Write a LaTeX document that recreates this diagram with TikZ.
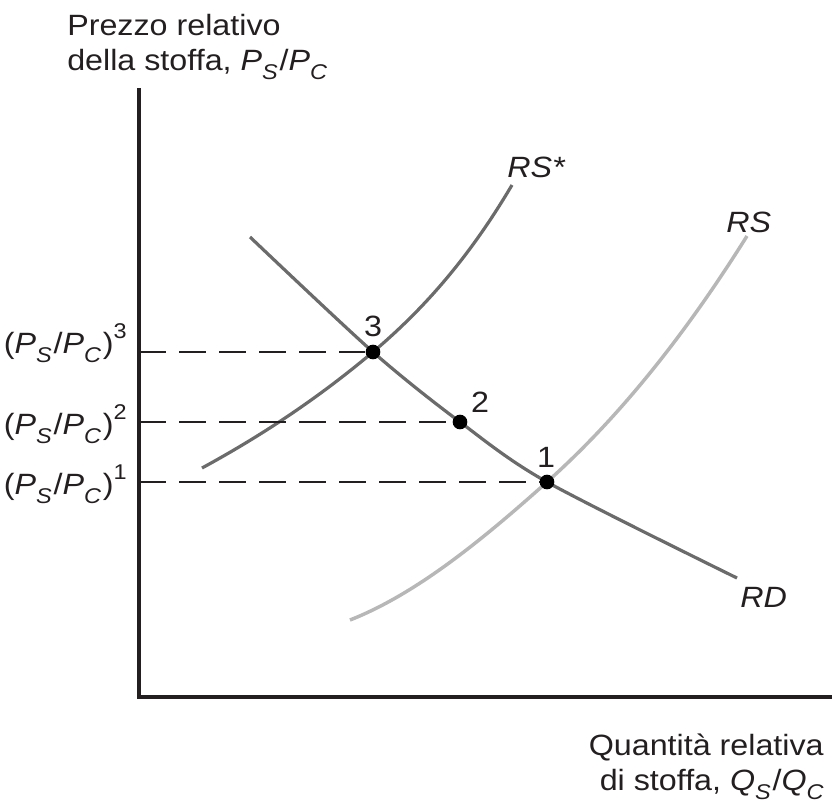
\documentclass[tikz,border=0pt]{standalone}
\usepackage{fontspec}
\setmainfont{Liberation Sans}[FakeStretch=1.1]
\usepackage{tikz}
\usetikzlibrary{positioning}
\definecolor{Ink}{HTML}{231F20}
\definecolor{Curve}{HTML}{6B6B6B}
\definecolor{Pale}{HTML}{B7B7B7}
\newcommand{\pr}[2]{\textit{#1}\raisebox{-0.32em}{\fontsize{16}{16}\selectfont\textit{#2}}\hspace{0.06em}}
\newcommand{\up}[1]{\raisebox{0.5em}{\fontsize{16}{16}\selectfont #1}}
\tikzset{
  axis/.style={line width=3pt,color=Ink},
  demand/.style={line width=2.4pt,color=Curve},
  supply/.style={line width=2.4pt,color=Curve},
  homesupply/.style={line width=2.6pt,color=Pale},
  guide/.style={line width=1.1pt,color=Ink,dash pattern=on 20pt off 10pt},
  dot/.style={circle,fill=black,inner sep=0pt,minimum size=11pt},
  lbl/.style={inner sep=0pt,text=Ink,font=\fontsize{22}{26}\selectfont},
  tag/.style={lbl,font=\fontsize{22}{26}\selectfont\itshape}
}
\begin{document}
\begin{tikzpicture}[x=0.75pt,y=-0.75pt]
  \useasboundingbox (0,0) rectangle (832,804);
  % axes
  \coordinate (origin) at (139,697);
  \coordinate (ytop) at (139,88);
  \coordinate (xend) at (832,697);
  \draw[axis] (ytop) -- (origin) -- (xend);
  \node[lbl,align=left,anchor=north west] (ylabel) at (67,14) {Prezzo relativo\\della stoffa, \pr{P}{S}/\pr{P}{C}};
  \node[lbl,align=right,anchor=south east] (xlabel) at (824,800) {Quantità relativa\\di stoffa, \pr{Q}{S}/\pr{Q}{C}};
  % curves
  \draw[homesupply] (350,620) .. controls (416,594) and (481,541) .. (547,482)
                    .. controls (614,422) and (680,343) .. (747,236);
  \draw[supply] (202,468) .. controls (259,437) and (316,400) .. (373,352)
                .. controls (419,313) and (466,263) .. (512,185);
  \draw[demand] plot[smooth] coordinates {(250,237) (373,352) (460,422) (547,482) (737,578)};
  \node[tag,anchor=base west] (rsstar) at (507,177) {RS*};
  \node[tag,anchor=base west] (rs) at (726,232) {RS};
  \node[tag,anchor=base west] (rd) at (740,607) {RD};
  % equilibria
  \node[dot] (p3) at (373,352) {};
  \node[dot] (p2) at (460,422) {};
  \node[dot] (p1) at (547,482) {};
  \draw[guide] (p3 -| origin) -- (p3);
  \draw[guide] (p2 -| origin) -- (p2);
  \draw[guide] (p1 -| origin) -- (p1);
  \node[lbl,anchor=base] (n3) at (373,336) {3};
  \node[lbl,anchor=base] (n2) at (480,412) {2};
  \node[lbl,anchor=base] (n1) at (546,467) {1};
  \node[lbl,anchor=base east] (lvl3) at (127,353) {(\pr{P}{S}/\pr{P}{C})\up{3}};
  \node[lbl,anchor=base east] (lvl2) at (127,434) {(\pr{P}{S}/\pr{P}{C})\up{2}};
  \node[lbl,anchor=base east] (lvl1) at (127,494) {(\pr{P}{S}/\pr{P}{C})\up{1}};
\end{tikzpicture}
\end{document}
